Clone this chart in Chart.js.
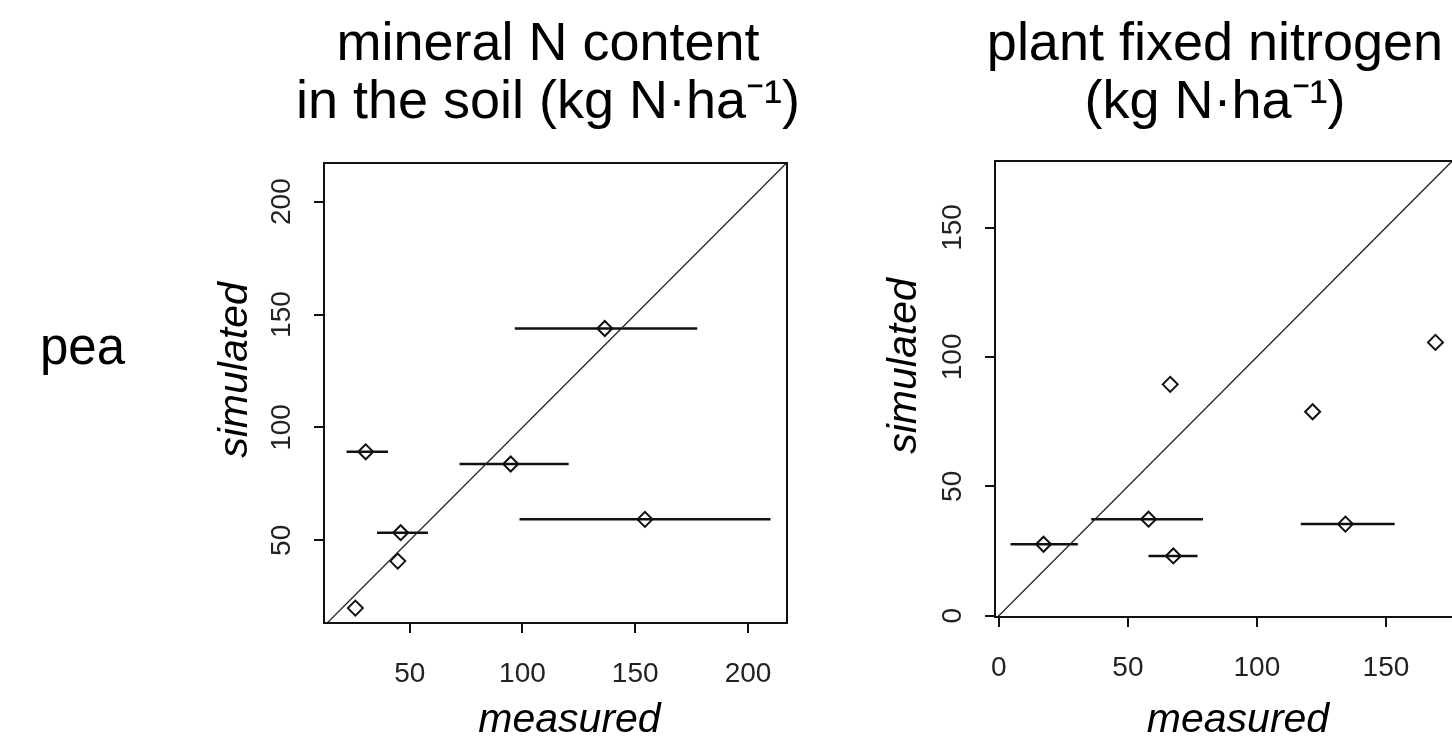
<!DOCTYPE html>
<html>
<head>
<meta charset="utf-8">
<script src="https://cdn.jsdelivr.net/npm/chart.js@4"></script>
<style>
  html, body { margin: 0; padding: 0; background: #fff; overflow: hidden; width: 1452px; height: 736px; }
  #row-label { position: absolute; left: 40px; top: 321px; font: 51px "Liberation Sans", Arial, sans-serif; line-height: 51px; color: #000; }
  canvas { position: absolute; top: 0; }
  #chart-soil { left: 200px; }
  #chart-fixed { left: 870px; }
</style>
</head>
<body>
<div id="row-label">pea</div>
<canvas id="chart-soil" width="696" height="736"></canvas>
<canvas id="chart-fixed" width="690" height="736"></canvas>
<script>
// mineral N content in the soil
const SOIL_MEASURED  = [136.5, 30.5, 94.8, 46.0, 44.7, 25.9, 154.3];
const SOIL_SIMULATED = [143.8, 89.2, 83.8, 53.4, 40.8, 20.0, 59.3];
const SOIL_LOW       = [96.6, 22.0, 72.1, 35.5, null, null, 98.7];
const SOIL_HIGH      = [177.5, 40.4, 120.5, 58.1, null, null, 210.0];
const SOIL_X_RANGE = [12, 217.3];
const SOIL_Y_RANGE = [13.4, 217.1];
const SOIL_TICKS = [50, 100, 150, 200];

// plant fixed nitrogen
const FIX_MEASURED  = [66.4, 169.2, 121.6, 58.0, 17.3, 67.6, 134.3];
const FIX_SIMULATED = [89.4, 105.6, 78.8, 37.3, 27.6, 23.1, 35.4];
const FIX_LOW       = [null, null, null, 35.8, 4.5, 58.0, 117.0];
const FIX_HIGH      = [null, null, null, 79.1, 30.6, 77.0, 153.4];
const FIX_X_RANGE = [-1.5, 176];
const FIX_Y_RANGE = [-0.5, 175.7];
const FIX_TICKS = [0, 50, 100, 150];

const FONT = '"Liberation Sans", Arial, sans-serif';
const INK = '#111';

// box around the plot + axis titles
const framePlugin = {
    id: 'frame',
    afterDatasetsDraw(chart, args, opts) {
        const a = chart.chartArea;
        const ctx = chart.ctx;
        ctx.save();
        ctx.strokeStyle = INK;
        ctx.lineWidth = 2;
        ctx.strokeRect(a.left, a.top, a.right - a.left, a.bottom - a.top);
        ctx.restore();
    },
    afterDraw(chart, args, opts) {
        const a = chart.chartArea;
        const ctx = chart.ctx;
        ctx.save();
        ctx.fillStyle = '#000';
        ctx.font = 'italic 41px ' + FONT;
        ctx.textAlign = 'center';
        ctx.textBaseline = 'alphabetic';
        ctx.fillText(opts.xTitle, (a.left + a.right) / 2 + 14, chart.height - 4);
        ctx.translate(a.left - opts.yTitleGap, (a.top + a.bottom) / 2 - 23);
        ctx.rotate(-Math.PI / 2);
        ctx.fillText(opts.yTitle, 0, 0);
        ctx.restore();
    }
};

function buildDatasets(measured, simulated, low, high, xRange, yRange) {
    let datasets = [];
    let lo = Math.min(xRange[0], yRange[0]);
    let hi = Math.max(xRange[1], yRange[1]);
    // 1:1 line
    datasets.push({
        data: [{x: lo, y: lo}, {x: hi, y: hi}],
        showLine: true,
        borderColor: '#222',
        borderWidth: 1.3,
        pointRadius: 0,
    });
    // horizontal spread of the measurements
    for (let i = 0; i < measured.length; i++) {
        if (low[i] === null) continue;
        datasets.push({
            data: [{x: low[i], y: simulated[i]}, {x: high[i], y: simulated[i]}],
            showLine: true,
            borderColor: INK,
            borderWidth: 2.5,
            pointRadius: 0,
        });
    }
    datasets.push({
        data: measured.map((m, i) => ({x: m, y: simulated[i]})),
        pointStyle: 'rectRot',
        pointRadius: 7.5,
        borderWidth: 2,
        borderColor: INK,
        backgroundColor: 'rgba(0,0,0,0)',
    });
    return datasets;
}

function axis(range, ticks, vertical, size) {
    let opts = {
        type: 'linear',
        min: range[0],
        max: range[1],
        afterBuildTicks: (s) => { s.ticks = ticks.map(v => ({value: v})); },
        grid: { display: true, drawOnChartArea: false, drawTicks: true, tickLength: 10, color: INK, lineWidth: 2 },
        border: { display: false },
        ticks: { font: { family: FONT, size: 28 }, color: '#222' },
    };
    if (vertical) {
        opts.ticks.minRotation = 90;
        opts.ticks.maxRotation = 90;
        opts.ticks.crossAlign = 'center';
        opts.ticks.padding = 8.5;
        opts.afterFit = (s) => { s.width = size; };
    } else {
        opts.ticks.maxRotation = 0;
        opts.ticks.padding = 24;
        opts.afterFit = (s) => { s.height = size; };
    }
    return opts;
}

// empty axis on the right, only there so the title sits centred over the plot
function spacer(width) {
    return {
        type: 'linear',
        position: 'right',
        display: true,
        ticks: { display: false },
        grid: { display: false },
        border: { display: false },
        afterFit: (s) => { s.width = width; },
    };
}

function panel(id, cfg) {
    return new Chart(document.getElementById(id), {
        type: 'scatter',
        data: { datasets: buildDatasets(cfg.measured, cfg.simulated, cfg.low, cfg.high, cfg.xRange, cfg.yRange) },
        options: {
            responsive: false,
            animation: false,
            events: [],
            layout: { padding: 0 },
            plugins: {
                legend: { display: false },
                tooltip: { enabled: false },
                title: {
                    display: true,
                    text: cfg.title,
                    color: '#000',
                    font: { family: FONT, size: 54, weight: 'normal', lineHeight: '58px' },
                    padding: { top: 16, bottom: cfg.titleGap },
                },
                frame: { xTitle: 'measured', yTitle: 'simulated', yTitleGap: cfg.yTitleGap },
            },
            scales: {
                x: axis(cfg.xRange, cfg.ticks, false, cfg.xHeight),
                y: axis(cfg.yRange, cfg.ticks, true, cfg.yWidth),
                pad: spacer(cfg.padRight),
            },
        },
        plugins: [framePlugin],
    });
}

panel('chart-soil', {
    measured: SOIL_MEASURED, simulated: SOIL_SIMULATED, low: SOIL_LOW, high: SOIL_HIGH,
    xRange: SOIL_X_RANGE, yRange: SOIL_Y_RANGE, ticks: SOIL_TICKS,
    title: ['mineral N content', 'in the soil (kg N·ha⁻¹)'],
    titleGap: 31, padRight: 109, xHeight: 113, yWidth: 124, yTitleGap: 77,
});

panel('chart-fixed', {
    measured: FIX_MEASURED, simulated: FIX_SIMULATED, low: FIX_LOW, high: FIX_HIGH,
    xRange: FIX_X_RANGE, yRange: FIX_Y_RANGE, ticks: FIX_TICKS,
    title: ['plant fixed nitrogen', '(kg N·ha⁻¹)'],
    titleGap: 29, padRight: 107, xHeight: 119, yWidth: 125, yTitleGap: 79,
});
</script>
</body>
</html>
